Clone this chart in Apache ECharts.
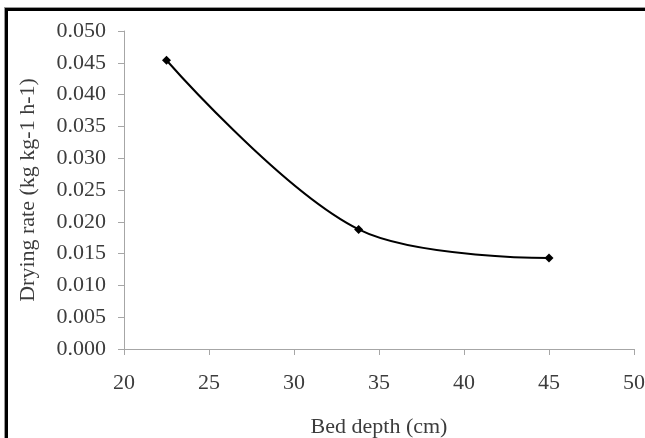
<!DOCTYPE html>
<html>
<head>
<meta charset="utf-8">
<script src="https://cdn.jsdelivr.net/npm/echarts@6/dist/echarts.min.js"></script>
<style>
html,body{margin:0;padding:0;background:#fff;}
#chart{width:645px;height:438px;}
</style>
</head>
<body>
<div id="chart"></div>
<script>
var bedDepth = [22.5, 33.8, 45];
var dryingRate = [0.0454, 0.0188, 0.0143];
var xTicks = [20, 25, 30, 35, 40, 45, 50];
var yTicks = [0, 0.005, 0.01, 0.015, 0.02, 0.025, 0.03, 0.035, 0.04, 0.045, 0.05];

var font = 'Liberation Serif';
var textColor = '#3c3c3c';
var axisColor = '#a6a6a6';

var chart = echarts.init(document.getElementById('chart'), null, {renderer: 'canvas'});
chart.setOption({
  animation: false,
  backgroundColor: '#fff',
  grid: {left: 124, right: 11, top: 31, bottom: 89, containLabel: false, outerBoundsMode: 'none'},
  xAxis: {
    type: 'value',
    min: xTicks[0], max: xTicks[xTicks.length - 1], interval: 5,
    name: 'Bed depth (cm)', nameLocation: 'middle', nameGap: 67,
    nameTextStyle: {fontFamily: font, fontSize: 22, color: textColor},
    axisLine: {show: true, lineStyle: {color: axisColor, width: 1}},
    axisTick: {show: true, length: 6, lineStyle: {color: axisColor}},
    axisLabel: {fontFamily: font, fontSize: 22, color: textColor, margin: 23},
    splitLine: {show: false}
  },
  yAxis: {
    type: 'value',
    min: yTicks[0], max: yTicks[yTicks.length - 1], interval: 0.005,
    name: 'Drying rate (kg kg-1 h-1)', nameLocation: 'middle', nameGap: 85,
    nameTextStyle: {fontFamily: font, fontSize: 22, color: textColor},
    axisLine: {show: true, lineStyle: {color: axisColor, width: 1}},
    axisTick: {show: true, length: 6, lineStyle: {color: axisColor}},
    axisLabel: {fontFamily: font, fontSize: 22, color: textColor, margin: 18,
      formatter: function (v) { return v.toFixed(3); }},
    splitLine: {show: false}
  },
  series: [{
    type: 'line',
    data: bedDepth.map(function (x, i) { return [x, dryingRate[i]]; }),
    smooth: 0.35,
    symbol: 'diamond',
    symbolSize: 9,
    itemStyle: {color: '#000'},
    lineStyle: {color: '#000', width: 2}
  }],
  graphic: [
    {type: 'rect', shape: {x: 5, y: 8, width: 3, height: 430}, style: {fill: '#000'}},
    {type: 'rect', shape: {x: 5, y: 8, width: 640, height: 3}, style: {fill: '#000'}},
    {type: 'rect', shape: {x: 4, y: 7, width: 1, height: 431}, style: {fill: '#999'}},
    {type: 'rect', shape: {x: 4, y: 7, width: 641, height: 1}, style: {fill: '#999'}}
  ]
});
</script>
</body>
</html>
